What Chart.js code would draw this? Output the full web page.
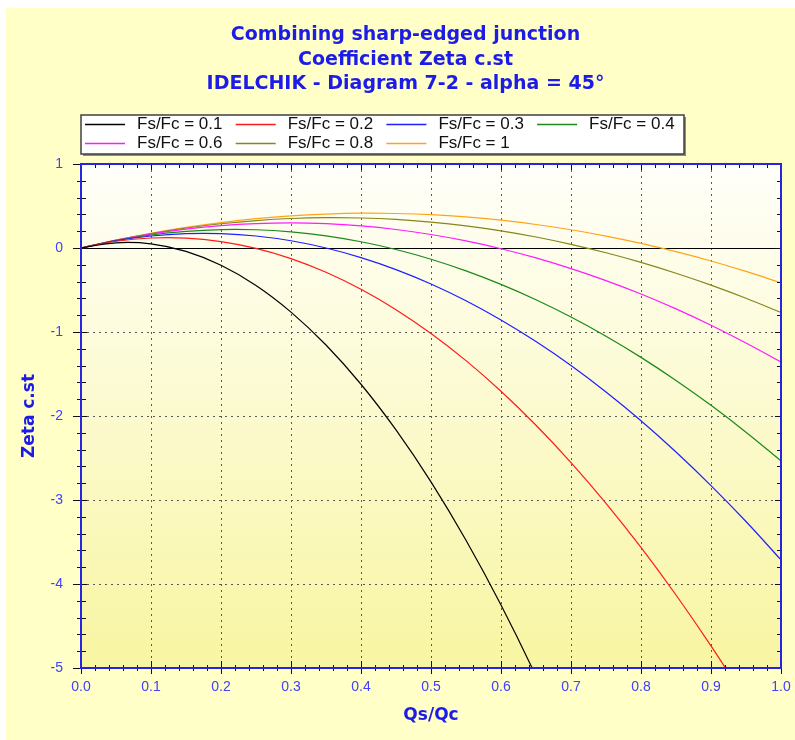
<!DOCTYPE html>
<html>
<head>
<meta charset="utf-8">
<script src="https://cdn.jsdelivr.net/npm/chart.js@4/dist/chart.umd.min.js"></script>
<style>
  body { margin: 0; background: #ffffff; }
  #wrap { width: 795px; height: 740px; }
</style>
</head>
<body>
<div id="wrap"><canvas id="zeta-chart" width="795" height="740"></canvas></div>
<script>
// Qs/Qc values read at 0.05 steps
const qsQc = [0, 0.05, 0.1, 0.15, 0.2, 0.25, 0.3, 0.35, 0.4, 0.45, 0.5,
  0.55, 0.6, 0.65, 0.7, 0.75, 0.8, 0.85, 0.9, 0.95, 1];

// Zeta c.st for each Fs/Fc curve
const zeta01 = [0, 0.062, 0.049, -0.041, -0.206, -0.446, -0.763, -1.155, -1.622, -2.166, -2.785,
  -3.48, -4.25, -5.097, -6.019];
const zeta02 = [0, 0.08, 0.119, 0.118, 0.077, -0.004, -0.126, -0.289, -0.491, -0.734, -1.018,
  -1.341, -1.705, -2.11, -2.554, -3.039, -3.565, -4.131, -4.737, -5.383, -6.07];
const zeta03 = [0, 0.086, 0.143, 0.171, 0.171, 0.143, 0.086, 0, -0.114, -0.257, -0.428,
  -0.628, -0.857, -1.114, -1.399, -1.714, -2.056, -2.428, -2.828, -3.256, -3.713];
const zeta04 = [0, 0.089, 0.155, 0.198, 0.219, 0.217, 0.192, 0.144, 0.074, -0.018, -0.134,
  -0.272, -0.433, -0.616, -0.822, -1.051, -1.302, -1.577, -1.873, -2.193, -2.535];
const zeta06 = [0, 0.092, 0.166, 0.224, 0.266, 0.29, 0.298, 0.289, 0.263, 0.22, 0.161,
  0.085, -0.009, -0.118, -0.245, -0.388, -0.548, -0.725, -0.919, -1.13, -1.357];
const zeta08 = [0, 0.093, 0.172, 0.238, 0.289, 0.327, 0.351, 0.361, 0.357, 0.34, 0.308,
  0.263, 0.204, 0.131, 0.044, -0.057, -0.171, -0.3, -0.442, -0.598, -0.768];
const zeta10 = [0, 0.094, 0.176, 0.246, 0.303, 0.349, 0.383, 0.404, 0.414, 0.411, 0.397,
  0.37, 0.331, 0.28, 0.217, 0.142, 0.055, -0.044, -0.155, -0.279, -0.414];

const seriesLabels = ["Fs/Fc = 0.1", "Fs/Fc = 0.2", "Fs/Fc = 0.3", "Fs/Fc = 0.4",
  "Fs/Fc = 0.6", "Fs/Fc = 0.8", "Fs/Fc = 1"];
const seriesValues = [zeta01, zeta02, zeta03, zeta04, zeta06, zeta08, zeta10];

const titleLines = ["Combining sharp-edged junction", "Coefficient Zeta c.st",
  "IDELCHIK - Diagram 7-2 - alpha = 45\u00b0"];

function getColor(label) {
  if (label === "Fs/Fc = 0.1") return "#000000";
  if (label === "Fs/Fc = 0.2") return "#ff1a1a";
  if (label === "Fs/Fc = 0.3") return "#1f1fff";
  if (label === "Fs/Fc = 0.4") return "#1a8a1a";
  if (label === "Fs/Fc = 0.6") return "#ff1aff";
  if (label === "Fs/Fc = 0.8") return "#86861a";
  if (label === "Fs/Fc = 1") return "#ffa31a";
}

const FONT = "'Liberation Sans', Arial, sans-serif";
const BOLD_FONT = "'DejaVu Sans', Verdana, sans-serif";
const NARROW = "'Liberation Sans Narrow', 'Arial Narrow', 'Liberation Sans', sans-serif";
const TITLE_BLUE = "#1c1ce6";
const TICK_BLUE = "#4040ff";

// yellow panel, plot gradient, frame, minor ticks and the boxed legend
const decorPlugin = {
  id: "decor",
  beforeDraw(chart) {
    const { ctx, chartArea: a } = chart;
    ctx.save();
    ctx.fillStyle = "#ffffff";
    ctx.fillRect(0, 0, chart.width, chart.height);
    ctx.fillStyle = "#ffffc8";
    ctx.fillRect(6, 8, chart.width - 6, chart.height - 8);
    const grad = ctx.createLinearGradient(0, a.top, 0, a.bottom);
    grad.addColorStop(0, "#fffffa");
    grad.addColorStop(1, "#f8f5a2");
    ctx.fillStyle = grad;
    ctx.fillRect(a.left, a.top, a.right - a.left, a.bottom - a.top);
    ctx.restore();
  },
  afterDraw(chart) {
    const { ctx, chartArea: a, scales } = chart;
    ctx.save();
    // tick marks
    ctx.strokeStyle = "#111111";
    ctx.lineWidth = 1;
    ctx.beginPath();
    for (let i = 0; i <= 50; i++) {
      const px = Math.round(scales.x.getPixelForValue(i * 0.02)) + 0.5;
      const major = i % 5 === 0;
      ctx.moveTo(px, a.bottom - (major ? 7 : 3));
      ctx.lineTo(px, a.bottom + (major ? 6 : 3));
      ctx.moveTo(px, a.top);
      ctx.lineTo(px, a.top + (major ? 6 : 4));
    }
    for (let i = 0; i <= 30; i++) {
      const py = Math.round(scales.y.getPixelForValue(-5 + i * 0.2)) + 0.5;
      const major = i % 5 === 0;
      ctx.moveTo(a.left - (major ? 8 : 4), py);
      ctx.lineTo(a.left + (major ? 6 : 5), py);
      ctx.moveTo(a.right, py);
      ctx.lineTo(a.right - (major ? 6 : 4), py);
    }
    ctx.stroke();
    // blue frame
    ctx.strokeStyle = "#2626e0";
    ctx.lineWidth = 2;
    ctx.strokeRect(a.left, a.top, a.right - a.left, a.bottom - a.top);

    // legend box
    const bx = 81, by = 115, bw = 603, bh = 39;
    ctx.fillStyle = "#8a8a8a";
    ctx.fillRect(bx + 2, by + 2, bw, bh);
    ctx.fillStyle = "#ffffff";
    ctx.fillRect(bx, by, bw, bh);
    ctx.strokeStyle = "#404040";
    ctx.lineWidth = 1.5;
    ctx.strokeRect(bx, by, bw, bh);
    ctx.font = "17px " + FONT;
    ctx.textBaseline = "middle";
    ctx.textAlign = "left";
    chart.data.datasets.forEach((ds, i) => {
      if (!ds.inLegend) return;
      const col = i % 4;
      const row = Math.floor(i / 4);
      const x = 85 + col * 150.7;
      const y = 124.5 + row * 19;
      ctx.strokeStyle = ds.borderColor;
      ctx.lineWidth = 1.3;
      ctx.beginPath();
      ctx.moveTo(x, y);
      ctx.lineTo(x + 40, y);
      ctx.stroke();
      ctx.fillStyle = "#111111";
      ctx.fillText(ds.label, x + 52, y);
    });
    ctx.restore();
  },
};

const datasets = seriesLabels.map((label, i) => ({
  label: label,
  inLegend: true,
  data: seriesValues[i].map((v, j) => ({ x: qsQc[j], y: v })),
  borderColor: getColor(label),
  backgroundColor: getColor(label),
  borderWidth: 1.2,
  pointRadius: 0,
  tension: 0.4,
  fill: false,
}));

new Chart(document.querySelector("#zeta-chart").getContext("2d"), {
  type: "line",
  data: { datasets: datasets },
  options: {
    responsive: false,
    animation: false,
    layout: { padding: { left: 30, right: 14, top: 0, bottom: 0 } },
    plugins: {
      legend: { display: false },
      tooltip: { enabled: false },
      title: {
        display: true,
        text: titleLines,
        color: TITLE_BLUE,
        font: { family: BOLD_FONT, size: 19, weight: "bold", lineHeight: 1.3 },
        padding: { top: 22.6, bottom: 67.3 },
      },
    },
    scales: {
      x: {
        type: "linear",
        min: 0,
        max: 1,
        afterFit: (scale) => {
          scale.height = 72;
          scale.paddingLeft = 0;
          scale.paddingRight = 0;
        },
        ticks: {
          stepSize: 0.1,
          padding: 11,
          color: TICK_BLUE,
          font: { family: NARROW, size: 14 },
          callback: (v) => v.toFixed(1),
        },
        grid: {
          drawTicks: false,
          lineWidth: 1,
          color: (c) => (c.tick && (c.tick.value <= 0.001 || c.tick.value >= 0.999)) ? "rgba(0,0,0,0)" : "#5a5a5a",
        },
        border: { display: false, dash: [2, 4] },
        title: {
          display: true,
          text: "Qs/Qc",
          color: TITLE_BLUE,
          font: { family: BOLD_FONT, size: 17, weight: "bold" },
          padding: { top: 0, bottom: 13.8 },
        },
      },
      y: {
        min: -5,
        max: 1,
        afterFit: (scale) => { scale.width = 51; },
        ticks: {
          stepSize: 1,
          padding: 18,
          color: TICK_BLUE,
          font: { family: NARROW, size: 14 },
        },
        grid: {
          drawTicks: false,
          lineWidth: 1,
          color: (c) => {
            if (!c.tick) return "#5a5a5a";
            if (c.tick.value === 1 || c.tick.value === -5) return "rgba(0,0,0,0)";
            if (c.tick.value === 0) return "#000000";
            return "#5a5a5a";
          },
        },
        border: {
          display: false,
          dash: (c) => (c.tick && c.tick.value === 0) ? [] : [2, 4],
        },
        title: {
          display: true,
          text: "Zeta c.st",
          color: TITLE_BLUE,
          font: { family: BOLD_FONT, size: 17, weight: "bold" },
          padding: { top: -10.2, bottom: 0 },
        },
      },
    },
  },
  plugins: [decorPlugin],
});
</script>
</body>
</html>
